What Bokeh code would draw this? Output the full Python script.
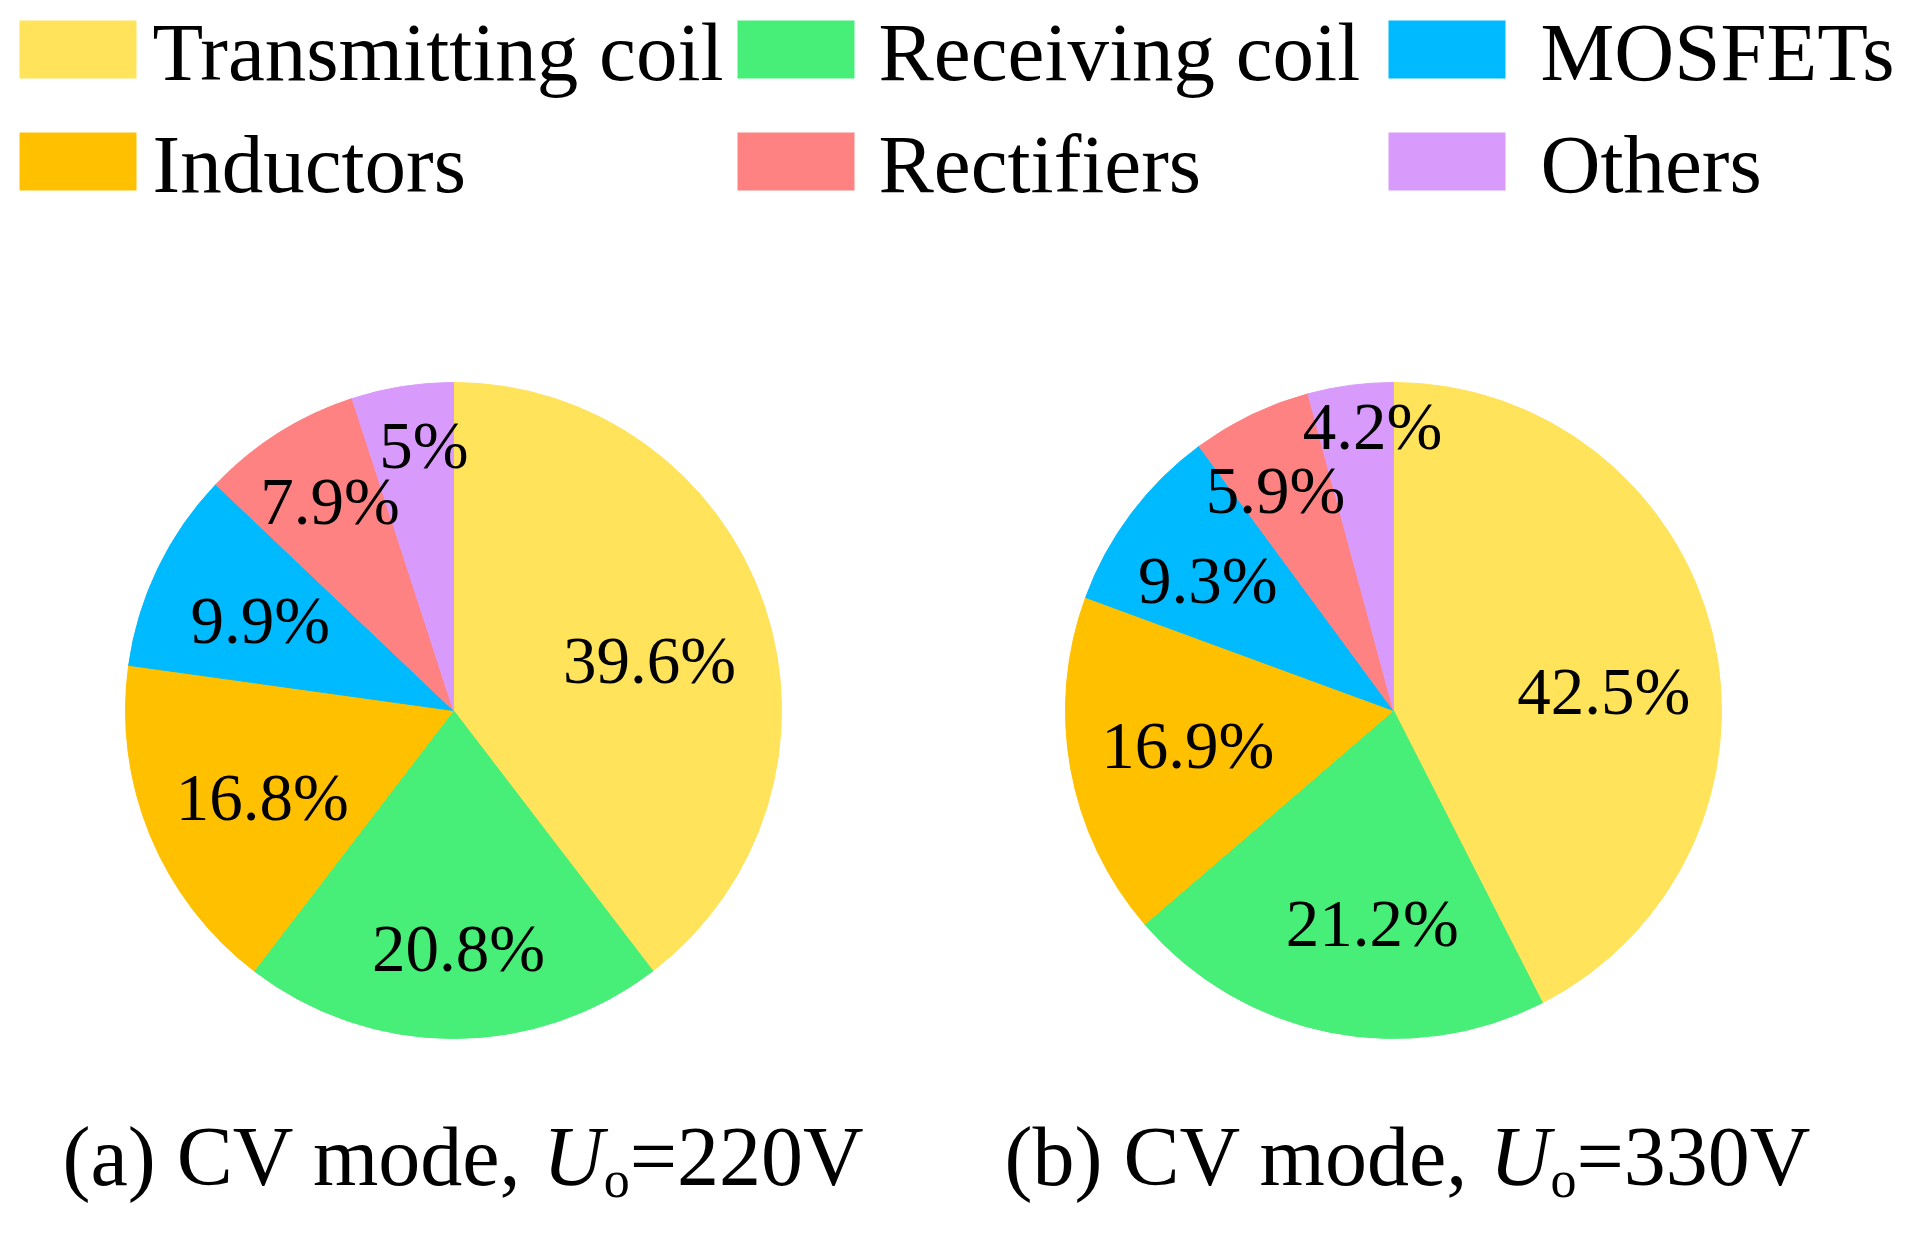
import numpy as np
from bokeh.plotting import figure
from bokeh.models import Range1d, ColumnDataSource
from bokeh.core.properties import value
from bokeh.embed import file_html
from bokeh.resources import INLINE

# ---------------- data ----------------
categories = ["Transmitting coil", "Receiving coil", "Inductors", "MOSFETs", "Rectifiers", "Others"]
share_220 = [39.6, 20.8, 16.8, 9.9, 7.9, 5.0]
share_330 = [42.5, 21.2, 16.9, 9.3, 5.9, 4.2]
colors = ["#FFE35B", "#47EE77", "#FFC000", "#00BAFF", "#FF8282", "#D99BFB"]
legend_order = ["Transmitting coil", "Receiving coil", "MOSFETs", "Inductors", "Rectifiers", "Others"]

# small hand nudges (px) for the percentage labels, as placed in the original figure
nudge_220 = [(-6, 18), (5, 24), (6, 6), (0, 3), (5, -6), (14, 10)]
nudge_330 = [(3, 30), (20, 3), (4, -3), (-8, 3), (-2, 20), (17, 2)]

FONT = "Liberation Serif"
H = 1233  # reference height, used to flip y
MID = 0.3375  # em offset between alphabetic baseline and em-box middle

p = figure(width=1909, height=1217, x_range=Range1d(8, 1917), y_range=Range1d(8, 1225),
           output_backend="svg", toolbar_location=None, min_border=0,
           x_axis_type=None, y_axis_type=None)
p.grid.visible = False
p.outline_line_color = None
p.background_fill_color = "white"


def txt(x, y_base, s, size, **kw):
    p.text(x=[x], y=[H - (y_base - MID * size)], text=[s], text_font=value(FONT),
           text_font_size=value(f"{size}px"), text_align="left", text_baseline="middle",
           text_color="black", **kw)


def draw_pie(shares, nudges, cx, cy_ref, r):
    cy = H - cy_ref
    vals = np.array(shares, dtype=float)
    frac = vals / vals.sum()
    cum = np.concatenate([[0.0], np.cumsum(frac)])
    start = np.pi / 2 - 2 * np.pi * cum[:-1]
    end = np.pi / 2 - 2 * np.pi * cum[1:]
    src = ColumnDataSource(dict(start=start, end=end, color=colors))
    p.wedge(x=cx, y=cy, radius=r, start_angle="start", end_angle="end", direction="clock",
            fill_color="color", line_color="color", line_width=1, source=src)
    mid = 2 * np.pi * (cum[:-1] + cum[1:]) / 2  # clockwise from top
    dist = 0.65 + 0.04 * np.clip(10 - vals, 0, None)
    nd = np.array(nudges, dtype=float)
    lx = cx + dist * r * np.sin(mid) + nd[:, 0]
    ly = cy + dist * r * np.cos(mid) - nd[:, 1]
    labels = [f"{v:g}%" for v in vals]
    p.text(x=lx, y=ly, text=labels, text_font=value(FONT), text_font_size=value("67px"),
           text_align="center", text_baseline="middle", text_color="black")


draw_pie(share_220, nudge_220, 461, 718, 328)
draw_pie(share_330, nudge_330, 1401, 718, 328)

# ---------------- legend ----------------
col_box_left = [27, 745, 1396]
col_text_left = [160, 886, 1548]
row_box_top = [28, 140]
row_base = [88, 200]
box_w, box_h = 117, 58
for i, name in enumerate(legend_order):
    c, rr = i % 3, i // 3
    col = colors[categories.index(name)]
    p.quad(left=col_box_left[c], right=col_box_left[c] + box_w,
           top=H - row_box_top[rr], bottom=H - row_box_top[rr] - box_h,
           fill_color=col, line_color=None)
    txt(col_text_left[c], row_base[rr], name, 83)


# ---------------- captions ----------------
def caption(x0, letter, volt):
    base = 1192
    pre = f"({letter}) CV mode, "
    wpre = 5.721 + (0.056 if letter == "b" else 0.0)
    xu = x0 + wpre * 84
    txt(x0, base, pre, 84)
    txt(xu, base, "U", 84, text_font_style="italic")
    xo = xu + 0.722 * 84
    txt(xo, base + 13, "o", 52)
    xe = xo + 0.5 * 52
    txt(xe, base, f"={volt}V", 84)


caption(70, "a", 220)
caption(1012, "b", 330)

open("out.html", "w").write(file_html(p, INLINE))
